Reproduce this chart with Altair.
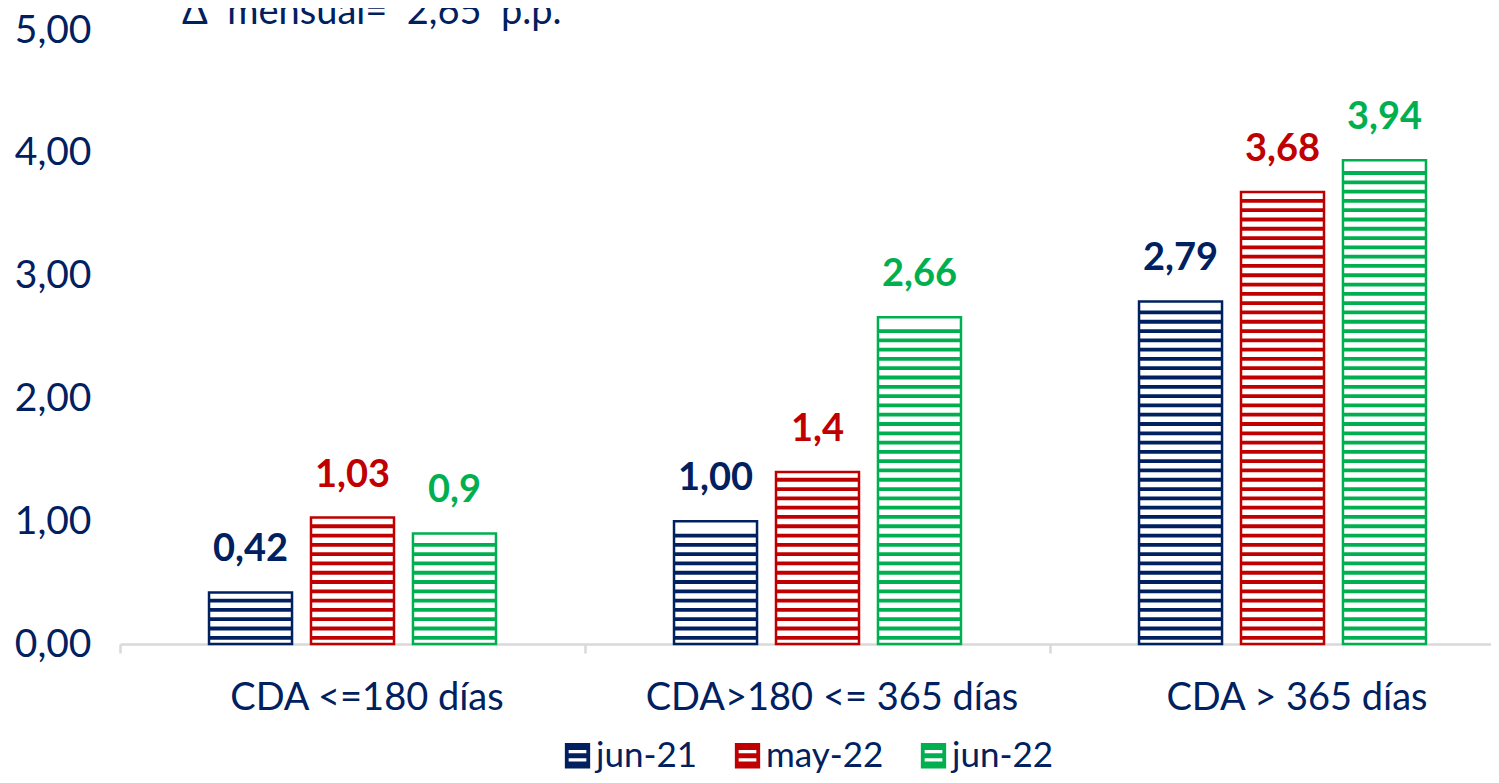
import altair as alt
import pandas as pd

# ---- data ----
categories = ["CDA <=180 días", "CDA>180 <= 365 días", "CDA > 365 días"]
series = ["jun-21", "may-22", "jun-22"]
values_jun21 = [0.42, 1.00, 2.79]
values_may22 = [1.03, 1.4, 3.68]
values_jun22 = [0.9, 2.66, 3.94]
labels_jun21 = ["0,42", "1,00", "2,79"]
labels_may22 = ["1,03", "1,4", "3,68"]
labels_jun22 = ["0,9", "2,66", "3,94"]
colors = ["#002060", "#C00000", "#00B050"]
title_text = "Δ\u00a0\u00a0mensual=\u00a0\u00a02,65\u00a0\u00a0p.p."

NAVY = "#002060"
FONT = "Lato"

rows = []
for s, vals, labs in zip(series, [values_jun21, values_may22, values_jun22],
                         [labels_jun21, labels_may22, labels_jun22]):
    for c, v, l in zip(categories, vals, labs):
        rows.append({"cat": c, "series": s, "value": v, "label": l})
df = pd.DataFrame(rows)

# horizontal hatch pattern (decoration derived from each bar's value)
PERIOD = 0.0757
THICK = 0.031
stripe_rows = []
for r in rows:
    k = 0
    while True:
        y0 = 0.035 + k * PERIOD
        y1 = y0 + THICK
        if y1 > r["value"] - 0.03:
            break
        stripe_rows.append({"cat": r["cat"], "series": r["series"], "y0": y0, "y1": y1})
        k += 1
stripes = pd.DataFrame(stripe_rows)

xscale = alt.Scale(domain=categories, range=[0, 1395], paddingInner=0, paddingOuter=0)
xoff = alt.Scale(domain=series, paddingInner=0.186, paddingOuter=0.873)
yscale = alt.Scale(domain=[0, 5], nice=False, zero=True)
cscale = alt.Scale(domain=series, range=colors)

x_enc = alt.X("cat:N", scale=xscale, sort=categories, title=None,
              axis=alt.Axis(labelAngle=0, labelFont=FONT, labelFontSize=38,
                            labelColor=NAVY, labelPadding=26, labelLimit=0,
                            labelOffset=14, tickBand="extent",
                            domainColor="#D9D9D9", domainWidth=2.5, tickColor="#D9D9D9",
                            tickWidth=2.5, tickSize=9, grid=False))
y_enc = alt.Y("value:Q", scale=yscale, title=None,
              axis=alt.Axis(values=[0, 1, 2, 3, 4, 5], domain=False, ticks=False, grid=False,
                            labelExpr="replace(format(datum.value, '.2f'), '.', ',')",
                            labelFont=FONT, labelFontSize=39, labelColor=NAVY,
                            labelPadding=29))

symbol_path = ("M-1,-1H1V1H-1Z "
               "M-0.7,-0.45V-0.2H0.7V-0.45Z "
               "M-0.7,0.2V0.45H0.7V0.2Z")

legend = alt.Legend(orient="none", direction="horizontal",
                    legendX=440, legendY=708,
                    symbolType=symbol_path, symbolSize=640,
                    symbolStrokeWidth=0, symbolOpacity=1,
                    labelFont=FONT, labelFontSize=35,
                    labelColor=NAVY, labelOffset=1,
                    columnPadding=32, title=None)

color_enc = alt.Color("series:N", scale=cscale, sort=series, title=None, legend=legend)

hatch = alt.Chart(stripes).mark_bar().encode(
    x=x_enc,
    xOffset=alt.XOffset("series:N", scale=xoff, sort=series),
    y=alt.Y("y0:Q", scale=yscale, title=None),
    y2="y1:Q",
    color=color_enc,
)

base = alt.Chart(df)

bars = base.mark_bar(filled=False, strokeWidth=2.5).encode(
    x=alt.X("cat:N", scale=xscale, sort=categories),
    xOffset=alt.XOffset("series:N", scale=xoff, sort=series),
    y=y_enc,
    color=color_enc,
)

texts = base.mark_text(font=FONT, fontSize=38, fontWeight="bold",
                       baseline="middle", dy=-42).encode(
    x=alt.X("cat:N", scale=xscale, sort=categories),
    xOffset=alt.XOffset("series:N", scale=xoff, sort=series),
    y=alt.Y("value:Q", scale=yscale),
    text="label:N",
    color=color_enc,
)

title = alt.Chart(pd.DataFrame({"t": [title_text]})).mark_text(
    font=FONT, fontSize=38, color=NAVY, align="left", baseline="alphabetic"
).encode(x=alt.value(62), y=alt.value(-6), text="t:N")

chart = alt.layer(hatch, bars, texts, title).properties(
    width=1371, height=614,
    padding={"left": 112, "top": 22, "right": 0, "bottom": 131},
    autosize=alt.AutoSizeParams(type="none"),
).configure_view(stroke=None)

chart.save("out.html", embed_options={"renderer": "svg", "actions": False})
